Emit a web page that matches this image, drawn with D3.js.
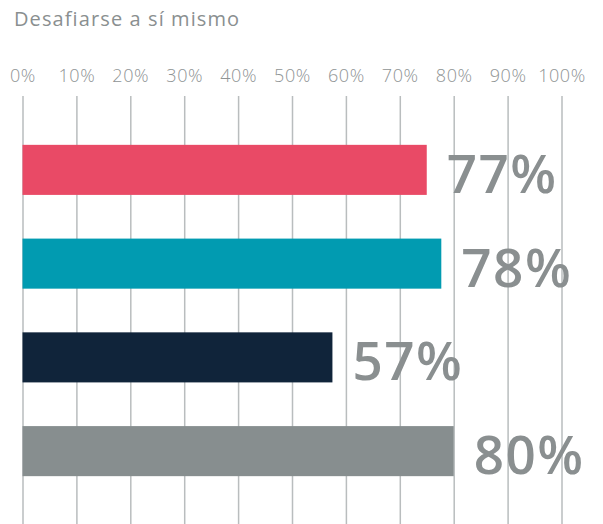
<!DOCTYPE html>
<html>
<head>
<meta charset="utf-8">
<script src="https://cdn.jsdelivr.net/npm/d3@7"></script>
<style>
  body { margin: 0; background: #fff; }
  svg { display: block; font-family: "Open Sans", "Noto Sans", sans-serif; }
</style>
</head>
<body>
<script>
// Data
const title = 'Desafiarse a sí mismo';
const groups = ['g1', 'g2', 'g3', 'g4'];
const barValues = [75, 77.7, 57.5, 80];
const barLabels = ['77%', '78%', '57%', '80%'];
const barColors = ['#e94a66', '#019bb1', '#10243a', '#878e8f'];
const tickValues = [0, 10, 20, 30, 40, 50, 60, 70, 80, 90, 100];

const width = 603, height = 524;

const svg = d3.select('body')
    .append('svg')
    .attr('width', width)
    .attr('height', height);

const x = d3.scaleLinear()
    .domain([0, 100])
    .range([22.5, 561.5]);

const y = d3.scaleBand()
    .domain(groups)
    .range([123, 498])
    .paddingInner(0.466)
    .paddingOuter(0.233);

// Title
svg.append('text')
    .attr('x', 14)
    .attr('y', 26)
    .attr('fill', '#8a8f90')
    .style('font-size', '20px')
    .style('letter-spacing', '1.1px')
    .text(title);

// Axis on top with gridlines running down
const axis = d3.axisTop(x)
    .tickValues(tickValues)
    .tickFormat(d => d + '%')
    .tickSizeInner(-(height - 96))
    .tickSizeOuter(0)
    .tickPadding(14);

const gAxis = svg.append('g')
    .attr('transform', 'translate(0,96)')
    .call(axis);

gAxis.select('.domain').remove();
gAxis.selectAll('.tick line')
    .attr('stroke', '#b9bdbe')
    .attr('stroke-width', 1.5);
gAxis.selectAll('.tick text')
    .attr('fill', '#8f9495')
    .style('font-size', '18px')
    .style('letter-spacing', '0.6px')
    .style('font-family', '"Open Sans", sans-serif')
    .style('font-weight', 300);

// Bars
const rows = groups.map((g, i) => ({ g, v: barValues[i], label: barLabels[i], color: barColors[i] }));

svg.selectAll('.bar')
    .data(rows)
    .enter()
    .append('rect')
    .attr('class', 'bar')
    .attr('x', x(0))
    .attr('y', d => y(d.g))
    .attr('width', d => x(d.v) - x(0))
    .attr('height', y.bandwidth())
    .attr('fill', d => d.color);

// Value labels
svg.selectAll('.val')
    .data(rows)
    .enter()
    .append('text')
    .attr('class', 'val')
    .attr('x', d => x(d.v) + 20)
    .attr('y', d => y(d.g) + y.bandwidth() / 2 + 23)
    .attr('fill', '#8a8f90')
    .style('font-size', '53px')
    .style('font-weight', 600)
    .style('letter-spacing', '1.5px')
    .text(d => d.label);
</script>
</body>
</html>
